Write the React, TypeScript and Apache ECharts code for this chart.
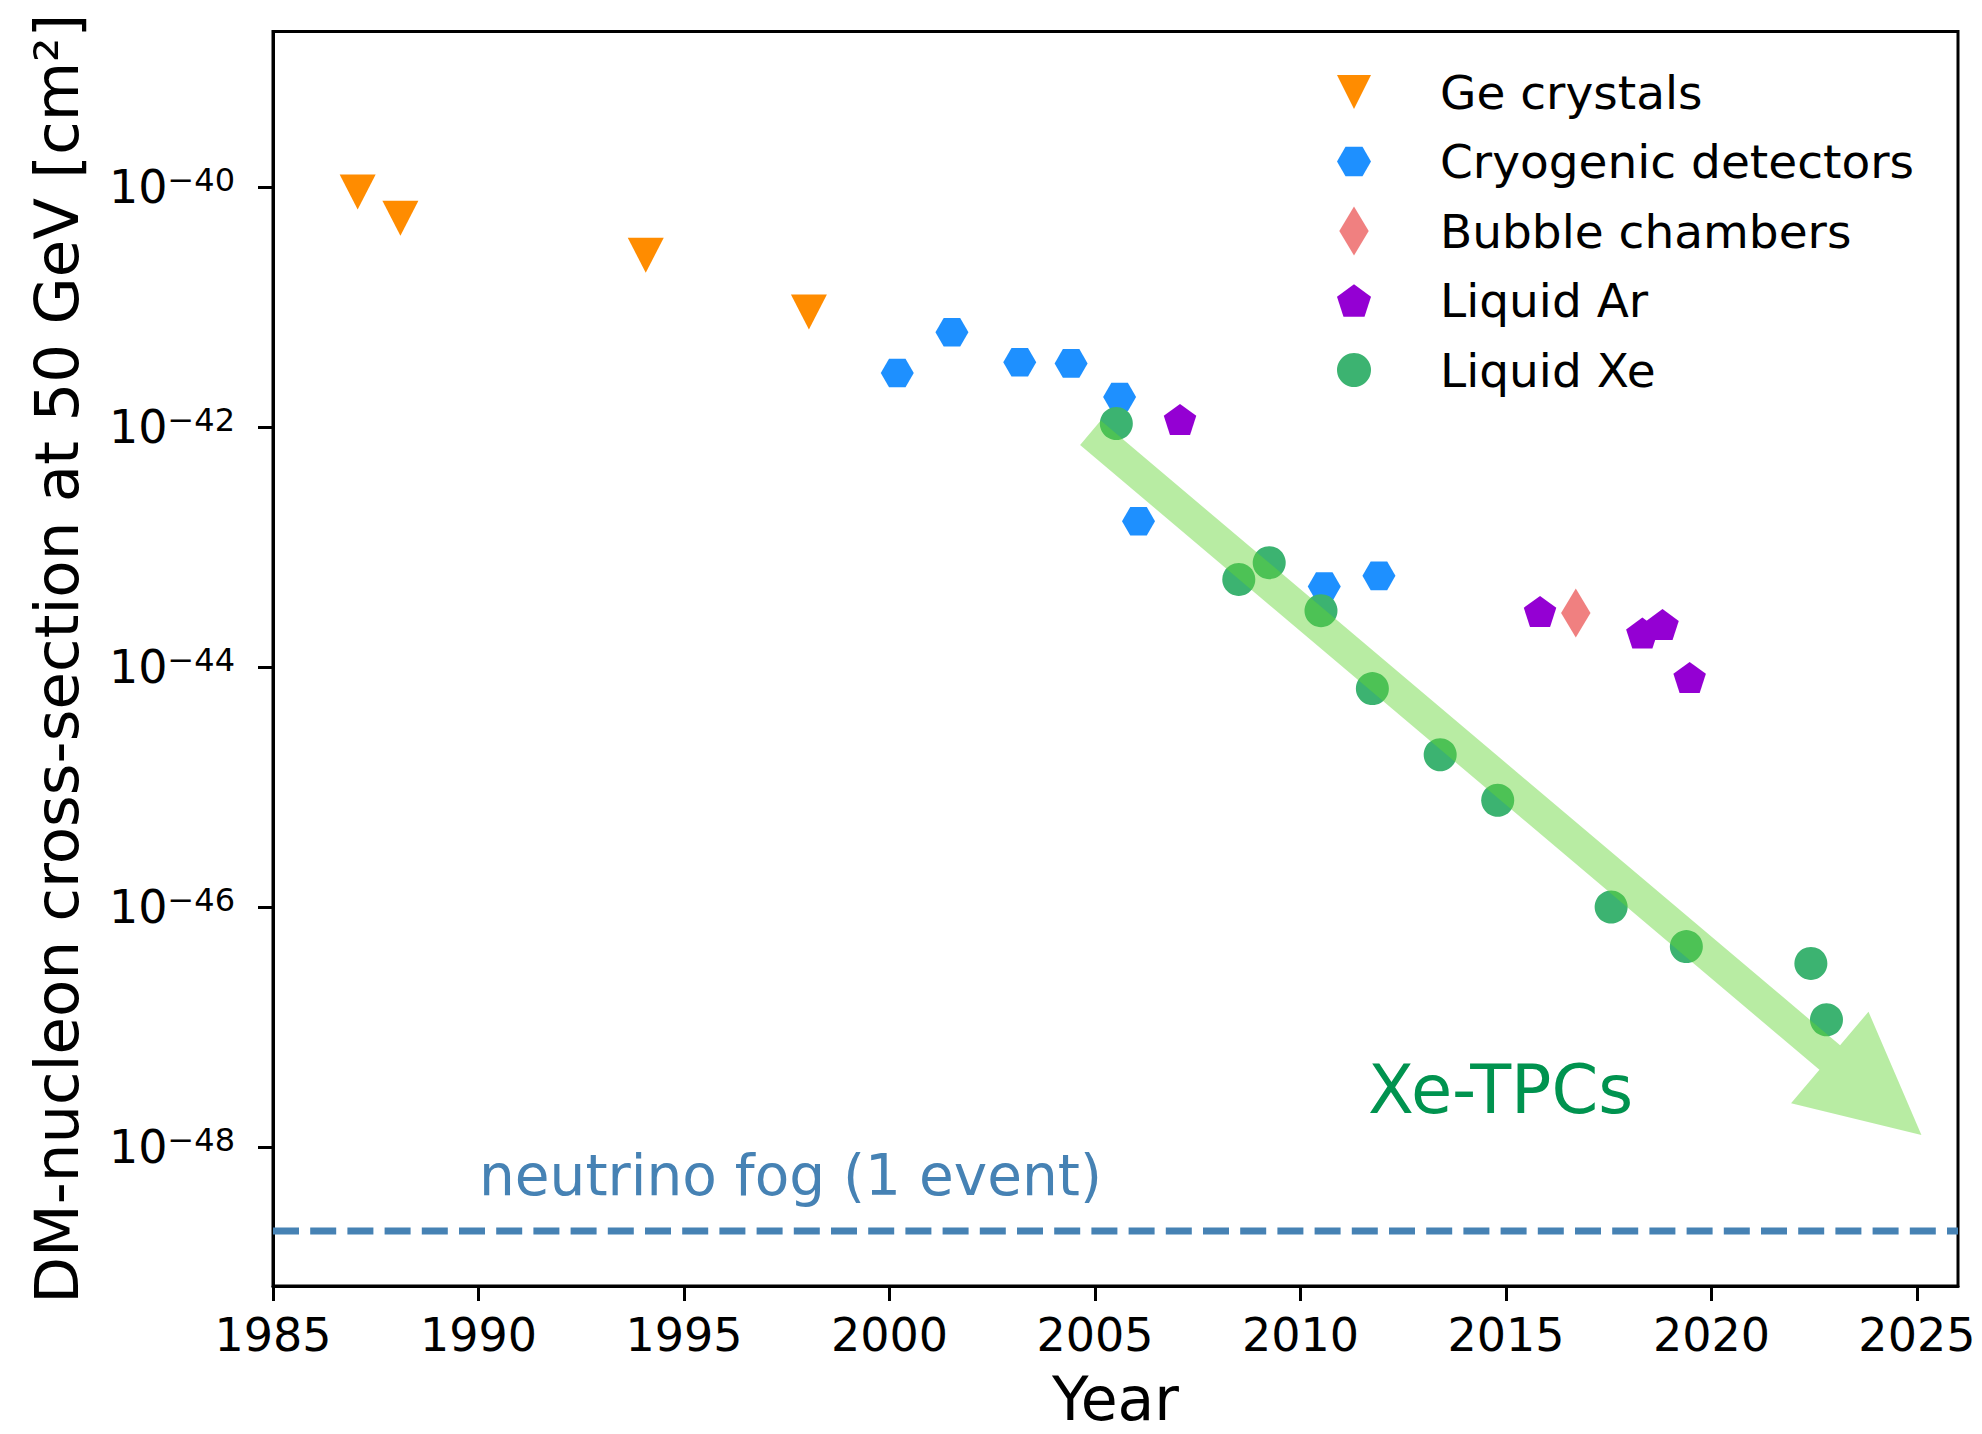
import React, { useEffect, useRef } from 'react';
import * as echarts from 'echarts';

// ---- data ----
const geYears = [1987.06, 1988.1, 1994.07, 1998.04];
const geSigma = [9.1e-41, 5.5e-41, 2.7e-41, 9.1e-42];

const cryoYears = [2000.19, 2001.52, 2003.17, 2004.42, 2005.6, 2006.06, 2010.58, 2011.91];
const cryoSigma = [2.82e-42, 6.17e-42, 3.47e-42, 3.39e-42, 1.78e-42, 1.64e-43, 4.68e-44, 5.75e-44];

const bubbleYears = [2016.7];
const bubbleSigma = [2.82e-44];

const arYears = [2007.07, 2015.83, 2018.32, 2018.81, 2019.47];
const arSigma = [1.12e-42, 2.82e-44, 1.86e-44, 2.19e-44, 7.94e-45];

const xeYears = [2005.52, 2008.5, 2009.24, 2010.5, 2011.75, 2013.4, 2014.8, 2017.56, 2019.39, 2022.42, 2022.8];
const xeSigma = [1.07e-42, 5.37e-44, 7.41e-44, 2.95e-44, 6.61e-45, 1.86e-45, 7.76e-46, 1.0e-46, 4.68e-47, 3.39e-47, 1.15e-47];

const neutrinoFogSigma = 2e-49;
const arrowFrom = [2004.89, 8.95e-43];
const arrowTo = [2025.11, 1.26e-48];

const yearTicks = [1985, 1990, 1995, 2000, 2005, 2010, 2015, 2020, 2025];
const sigmaTicks = [1e-48, 1e-46, 1e-44, 1e-42, 1e-40];
const xRange = [1985, 2026];
const yRange = [6.95e-50, 1.977e-39];

const seriesNames = ['Ge crystals', 'Cryogenic detectors', 'Bubble chambers', 'Liquid Ar', 'Liquid Xe'];

// ---- styles ----
const FONT = '"DejaVu Sans", "Liberation Sans", sans-serif';
const C_GE = '#ff8c00';
const C_CRYO = '#1e90ff';
const C_BUBBLE = '#f08080';
const C_AR = '#9400d3';
const C_XE = '#3cb371';
const C_FOG = '#4682b4';
const C_TPC = '#00934f';
const ARROW_FILL = 'rgba(98, 212, 50, 0.45)';

const SYM_TRI = 'path://M0,0L200,0L100,200Z';
const SYM_HEX = 'path://M0,86.6L50,0L150,0L200,86.6L150,173.2L50,173.2Z';
const SYM_DIAM = 'path://M30,0L60,50L30,100L0,50Z';
const SYM_PENT = 'path://M95.1,0L190.2,69.1L153.9,180.9L36.3,180.9L0,69.1Z';

// the y axis is drawn in decades (log10 of the cross-section)
const lg = (v: number) => Math.log10(v);
const toPoints = (xs: number[], ys: number[]) => xs.map((x, i) => [x, lg(ys[i])]);

export default function App() {
  const ref = useRef<HTMLDivElement>(null);

  useEffect(() => {
    if (!ref.current) return;
    const chart = echarts.init(ref.current, undefined, { renderer: 'svg' });

    const option: any = {
      animation: false,
      backgroundColor: '#ffffff',
      textStyle: { fontFamily: FONT },
      grid: {
        left: 273,
        top: 31.5,
        right: 24,
        bottom: 148,
        show: true,
        borderColor: '#000',
        borderWidth: 3,
        backgroundColor: 'transparent',
        containLabel: false,
        outerBoundsMode: 'none',
      },
      legend: {
        show: true,
        orient: 'vertical',
        left: 1337,
        top: 67.5,
        padding: 0,
        itemWidth: 34,
        itemHeight: 49,
        itemGap: 20.5,
        selectedMode: false,
        symbolKeepAspect: true,
        textStyle: {
          fontSize: 47,
          lineHeight: 49,
          color: '#000',
          fontFamily: FONT,
          padding: [0, 0, 0, 64],
        },
        data: [
          { name: seriesNames[0], icon: SYM_TRI, symbolKeepAspect: true },
          { name: seriesNames[1], icon: SYM_HEX, symbolKeepAspect: true },
          { name: seriesNames[2], icon: SYM_DIAM, symbolKeepAspect: true },
          { name: seriesNames[3], icon: SYM_PENT, symbolKeepAspect: true },
          { name: seriesNames[4], icon: 'circle', symbolKeepAspect: true },
        ],
      },
      xAxis: {
        type: 'value',
        min: xRange[0],
        max: xRange[1],
        name: 'Year',
        nameLocation: 'middle',
        nameGap: 83,
        nameMoveOverlap: false,
        nameTextStyle: { fontSize: 60, color: '#000', fontFamily: FONT },
        axisLine: { show: true, onZero: false, lineStyle: { color: '#000', width: 3 } },
        axisTick: {
          show: true,
          inside: false,
          length: 15,
          lineStyle: { color: '#000', width: 3 },
          customValues: yearTicks,
        },
        axisLabel: {
          show: true,
          margin: 26,
          fontSize: 46,
          color: '#000',
          fontFamily: FONT,
          customValues: yearTicks,
          formatter: (v: number) => String(Math.round(v)),
        },
        splitLine: { show: false },
        minorTick: { show: false },
      },
      yAxis: {
        type: 'value',
        min: lg(yRange[0]),
        max: lg(yRange[1]),
        name: 'DM-nucleon cross-section at 50 GeV [cm\u00b2]',
        nameLocation: 'middle',
        nameRotate: 90,
        nameGap: 186,
        nameMoveOverlap: false,
        nameTextStyle: { fontSize: 61, color: '#000', fontFamily: FONT },
        axisLine: { show: true, onZero: false, lineStyle: { color: '#000', width: 3 } },
        axisTick: {
          show: true,
          inside: false,
          length: 15,
          lineStyle: { color: '#000', width: 3 },
          customValues: sigmaTicks.map((v) => Math.round(lg(v))),
        },
        axisLabel: {
          show: true,
          margin: 38,
          color: '#000',
          fontFamily: FONT,
          customValues: sigmaTicks.map((v) => Math.round(lg(v))),
          formatter: (v: number) => {
            const e = Math.round(v);
            return '{b|10}{s|\u2212' + Math.abs(e) + '}';
          },
          rich: {
            b: { fontSize: 46, lineHeight: 46, verticalAlign: 'bottom', color: '#000', fontFamily: FONT },
            s: { fontSize: 32, lineHeight: 24, verticalAlign: 'top', color: '#000', fontFamily: FONT },
          },
        },
        splitLine: { show: false },
        minorTick: { show: false },
      },
      series: [
        {
          name: 'neutrino fog',
          type: 'line',
          data: [[xRange[0], lg(neutrinoFogSigma)], [xRange[1], lg(neutrinoFogSigma)]],
          showSymbol: false,
          symbol: 'none',
          silent: true,
          z: 1,
          lineStyle: { color: C_FOG, width: 7, type: [26, 11.2] },
        },
        {
          name: seriesNames[0],
          type: 'scatter',
          data: toPoints(geYears, geSigma),
          symbol: SYM_TRI,
          symbolSize: [36, 35],
          itemStyle: { color: C_GE, opacity: 1 },
          z: 3,
        },
        {
          name: seriesNames[1],
          type: 'scatter',
          data: toPoints(cryoYears, cryoSigma),
          symbol: SYM_HEX,
          symbolSize: [33, 28.6],
          itemStyle: { color: C_CRYO, opacity: 1 },
          z: 3,
        },
        {
          name: seriesNames[2],
          type: 'scatter',
          data: toPoints(bubbleYears, bubbleSigma),
          symbol: SYM_DIAM,
          symbolSize: [29.4, 49],
          itemStyle: { color: C_BUBBLE, opacity: 1 },
          z: 3,
        },
        {
          name: seriesNames[3],
          type: 'scatter',
          data: toPoints(arYears, arSigma),
          symbol: SYM_PENT,
          symbolSize: [32.5, 31],
          symbolOffset: [0, -1.6],
          itemStyle: { color: C_AR, opacity: 1 },
          z: 3,
        },
        {
          name: seriesNames[4],
          type: 'scatter',
          data: toPoints(xeYears, xeSigma),
          symbol: 'circle',
          symbolSize: 33,
          itemStyle: { color: C_XE, opacity: 1 },
          z: 3,
        },
        {
          name: 'trend arrow',
          type: 'custom',
          silent: true,
          clip: false,
          z: 5,
          data: [[arrowFrom[0], lg(arrowFrom[1]), arrowTo[0], lg(arrowTo[1])]],
          encode: { x: [0, 2], y: [1, 3] },
          renderItem: (params: any, api: any) => {
            const p0 = api.coord([api.value(0), api.value(1)]);
            const p1 = api.coord([api.value(2), api.value(3)]);
            const dx = p1[0] - p0[0];
            const dy = p1[1] - p0[1];
            const len = Math.sqrt(dx * dx + dy * dy);
            const ux = dx / len;
            const uy = dy / len;
            const nx = -uy;
            const ny = ux;
            const shaft = 16;
            const headHalf = 60;
            const headLen = 120;
            const bx = p1[0] - ux * headLen;
            const by = p1[1] - uy * headLen;
            const points = [
              [p0[0] + nx * shaft, p0[1] + ny * shaft],
              [bx + nx * shaft, by + ny * shaft],
              [bx + nx * headHalf, by + ny * headHalf],
              [p1[0], p1[1]],
              [bx - nx * headHalf, by - ny * headHalf],
              [bx - nx * shaft, by - ny * shaft],
              [p0[0] - nx * shaft, p0[1] - ny * shaft],
            ];
            return {
              type: 'polygon',
              shape: { points },
              style: { fill: ARROW_FILL, stroke: 'none' },
            };
          },
        },
      ],
      graphic: [
        {
          type: 'text',
          z: 20,
          x: 479,
          y: 1175,
          style: {
            text: 'neutrino fog (1 event)',
            fill: C_FOG,
            fontSize: 56.5,
            fontFamily: FONT,
            align: 'left',
            verticalAlign: 'middle',
          },
        },
        {
          type: 'text',
          z: 20,
          x: 1368,
          y: 1090,
          style: {
            text: 'Xe-TPCs',
            fill: C_TPC,
            fontSize: 67,
            fontFamily: FONT,
            align: 'left',
            verticalAlign: 'middle',
          },
        },
      ],
    };

    chart.setOption(option);
    return () => {
      chart.dispose();
    };
  }, []);

  return (
    <div
      ref={ref}
      style={{ position: 'absolute', left: 0, top: 0, width: 1982, height: 1434, background: '#fff' }}
    />
  );
}
